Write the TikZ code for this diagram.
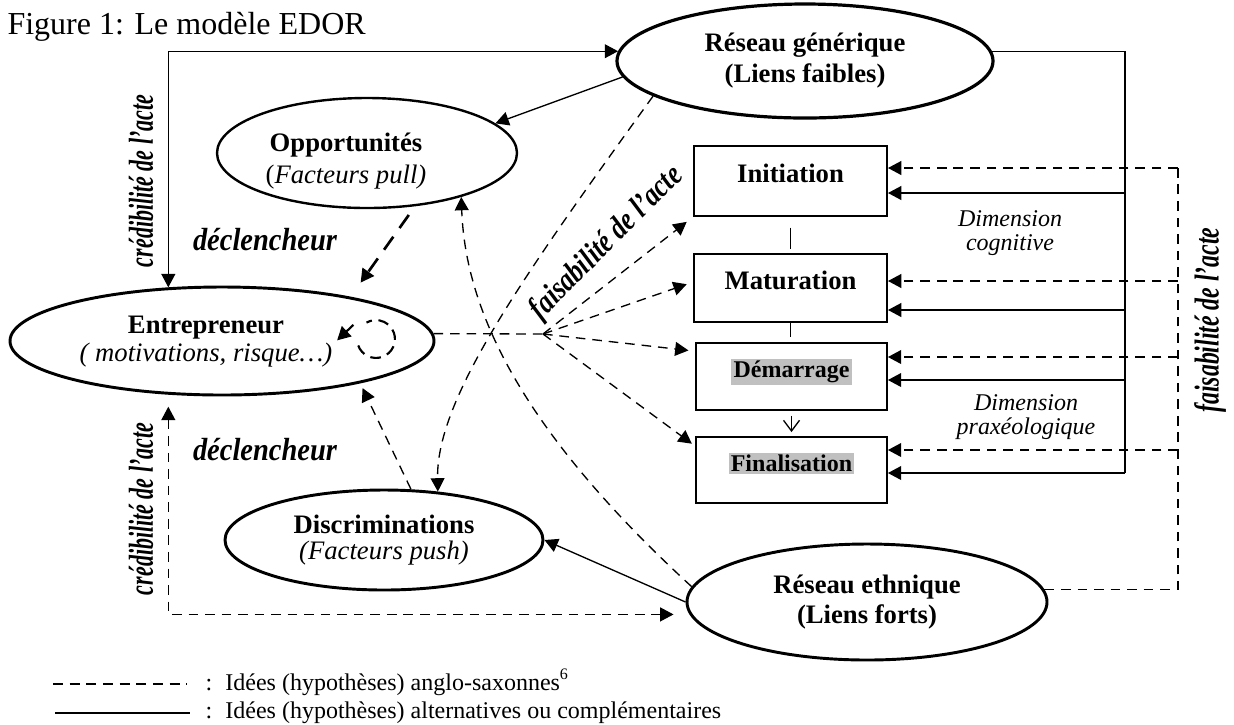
\documentclass[tikz,border=0pt]{standalone}
\usepackage{fontspec}
\setmainfont{Liberation Serif}
\usepackage{graphicx}
\usetikzlibrary{shapes.geometric,arrows.meta,calc}
\definecolor{hlgray}{RGB}{192,192,192}
\newcommand\hlbox[1]{{\setlength{\fboxsep}{0.8pt}\colorbox{hlgray}{#1}}}
\newcommand\brushtxt[2]{\resizebox{#1}{\height}{\bfseries\itshape #2}}
\begin{document}
\begin{tikzpicture}[x=0.375pt,y=-0.375pt,
  >={Triangle[length=5pt,width=5.2pt]},
  ell/.style={ellipse,draw,line width=1.1pt,inner sep=0pt},
  lbl/.style={inner sep=0pt,align=center},
  box/.style={rectangle,draw,line width=0.7pt,minimum width=72.4pt,inner sep=0pt,
    text height=7pt,text depth=6pt,font=\fontsize{10}{12}\selectfont\bfseries},
  conn/.style={line width=0.5pt},
  dsh/.style={dash pattern=on 3.6pt off 2.6pt},
  fancy/.style={inner sep=0pt,font=\fontsize{12}{14}\selectfont},
  fancyv/.style={inner sep=0pt,font=\fontsize{13}{15}\selectfont,rotate=90}]
\useasboundingbox (0,0) rectangle (1234,724);

% title
\node[anchor=base west,inner sep=0pt,font=\fontsize{12}{14}\selectfont] (title) at (7,34) {Figure 1: Le modèle EDOR};

% ellipses
\node[ell,line width=1.2pt,minimum width=141pt,minimum height=42.75pt,align=center,
  font=\fontsize{10}{11.6}\selectfont\bfseries] (gen) at (805,61) {Réseau générique\\(Liens faibles)};
\node[ell,line width=0.9pt,minimum width=112.5pt,minimum height=41.25pt] (opp) at (367,153) {};
\node[lbl,font=\fontsize{10}{12}\selectfont] (oppText) at (346,161) {\textbf{Opportunités}\\(\textit{Facteurs pull)}};
\node[ell,minimum width=159pt,minimum height=40.5pt] (entre) at (222,341) {};
\node[lbl,font=\fontsize{10}{10.5}\selectfont] (entreText) at (206,342) {\textbf{Entrepreneur}\\\textit{( motivations, risque…)}};
\node[ell,minimum width=119.25pt,minimum height=37.5pt,align=center,
  font=\fontsize{10}{10}\selectfont] (disc) at (384,540) {\textbf{Discriminations}\\\textit{(Facteurs push)}};
\node[ell,minimum width=135pt,minimum height=43.5pt,align=center,
  font=\fontsize{10}{11.25}\selectfont\bfseries] (eth) at (867,602) {Réseau ethnique\\(Liens forts)};

% process boxes
\node[box,minimum height=26.25pt] (init) at (790.5,181) {Initiation};
\node[box,minimum height=25.5pt] (matu) at (790.5,288) {Maturation};
\node[box,minimum width=71.6pt,minimum height=25.1pt,font=\fontsize{9}{11}\selectfont\bfseries] (dema) at (791.5,376.5) {\hlbox{Démarrage}};
\node[box,minimum width=71.6pt,minimum height=24.75pt,font=\fontsize{9}{11}\selectfont\bfseries] (fina) at (791.5,470) {\hlbox{Finalisation}};

\draw[conn,shorten <=4pt,shorten >=1.5pt] (init.south) -- (matu.north);
\draw[conn,shorten >=1.9pt] (matu.south) -- (matu.south |- dema.north);
\draw[conn,-{Straight Barb[length=4pt,width=6pt]},shorten <=1.9pt,shorten >=1.5pt] (dema.south) -- (fina.north);

% labels
\node[lbl,font=\fontsize{9}{9}\selectfont\itshape] (dimcog) at (1010,233) {Dimension\\cognitive};
\node[lbl,font=\fontsize{9}{9}\selectfont\itshape] (dimprax) at (1026,417) {Dimension\\praxéologique};
\node[fancyv] (cred1) at (141,181) {\brushtxt{64.5pt}{crédibilité de l'acte}};
\node[fancyv] (cred2) at (141,509) {\brushtxt{64.5pt}{crédibilité de l'acte}};
\node[fancyv] (fais2) at (1210,320) {\brushtxt{69.4pt}{faisabilité de l'acte}};
\node[fancy,rotate=45] (fais1) at (607,243) {\brushtxt{76pt}{faisabilité de l'acte}};
\node[fancy] (decl1) at (265,240) {\brushtxt{54pt}{déclencheur}};
\node[fancy] (decl2) at (265,450) {\brushtxt{54pt}{déclencheur}};

% left frame connectors
\draw[conn,<->] (entre.135) |- (gen.177);
\draw[conn,dsh,<->,shorten <=4.5pt,shorten >=6pt] (entre.225) |- (eth.184);

% solid links
\draw[conn,->] (gen.185) -- (opp.13);
\draw[conn,->] (eth.west) -- (disc.east);

% dashed curves
\draw[conn,dsh,->] (gen.193) .. controls (520,280) and (436,400) .. (disc.42);
\draw[conn,dsh,->] (eth.175) .. controls (510,420) and (465,300) .. (opp.-25);
\draw[conn,dsh,->,shorten >=2pt] (disc.62) -- (entre.-17);
\draw[line width=1pt,dash pattern=on 6pt off 4pt,->,shorten <=4pt,shorten >=6.5pt] (opp.-48) -- (entre.19);

% self loop in entrepreneur
\coordinate (loop) at (376,339);
\draw[line width=0.8pt,dash pattern=on 4pt off 2.5pt] ([shift={(200:7.1pt)}]loop) arc[start angle=200,end angle=480,radius=7.1pt];
\draw[line width=0.8pt,->] ([shift={(148:10pt)}]loop) -- ([shift={(182:14.6pt)}]loop);

% hub towards process
\coordinate (hub) at (543,334);
\draw[conn,dsh] (entre.2) -- (hub);
\draw[conn,dsh,->,shorten >=3pt] (hub) -- (init.south west);
\draw[conn,dsh,->,shorten >=2.5pt] (hub) -- ([yshift=2.25pt]matu.west);
\draw[conn,dsh,->,shorten >=2.5pt] (hub) -- ([yshift=-3.4pt]dema.north west);
\draw[conn,dsh,->,shorten >=1.5pt] (hub) -- ([yshift=-3.75pt]fina.north west);

% right solid bus
\coordinate (sv1) at (1125,193);
\coordinate (sv2) at (1125,310);
\coordinate (sv3) at (1125,380);
\coordinate (sv4) at (1125,473);
\draw[conn] (gen.3) -| (sv4);
\draw[conn,->] (sv1) -- (sv1 -| init.east);
\draw[conn,->] (sv2) -- (sv2 -| matu.east);
\draw[conn,->] (sv3) -- (sv3 -| dema.east);
\draw[conn,->] (sv4) -- (sv4 -| fina.east);

% right dashed bus
\coordinate (dv1) at (1178,168);
\coordinate (dv2) at (1178,281);
\coordinate (dv3) at (1178,357);
\coordinate (dv4) at (1178,450);
\draw[conn,dsh] (eth.4) -| (dv1);
\draw[conn,dsh,->] (dv1) -- (dv1 -| init.east);
\draw[conn,dsh,->] (dv2) -- (dv2 -| matu.east);
\draw[conn,dsh,->] (dv3) -- (dv3 -| dema.east);
\draw[conn,dsh,->] (dv4) -- (dv4 -| fina.east);

% legend
\coordinate (la1) at (53,684);
\coordinate (la2) at (187,684);
\coordinate (lb1) at (55,713);
\coordinate (lb2) at (190,713);
\draw[conn,dash pattern=on 3.75pt off 2.5pt] (la1) -- (la2);
\draw[line width=0.8pt] (lb1) -- (lb2);
\node[anchor=base west,inner sep=0pt,font=\fontsize{9}{11}\selectfont] (leg1) at (205,690) {:\hspace{0.55em}Idées (hypothèses) anglo-saxonnes\textsuperscript{6}};
\node[anchor=base west,inner sep=0pt,font=\fontsize{9}{11}\selectfont] (leg2) at (205,718) {:\hspace{0.55em}Idées (hypothèses) alternatives ou complémentaires};
\end{tikzpicture}
\end{document}
